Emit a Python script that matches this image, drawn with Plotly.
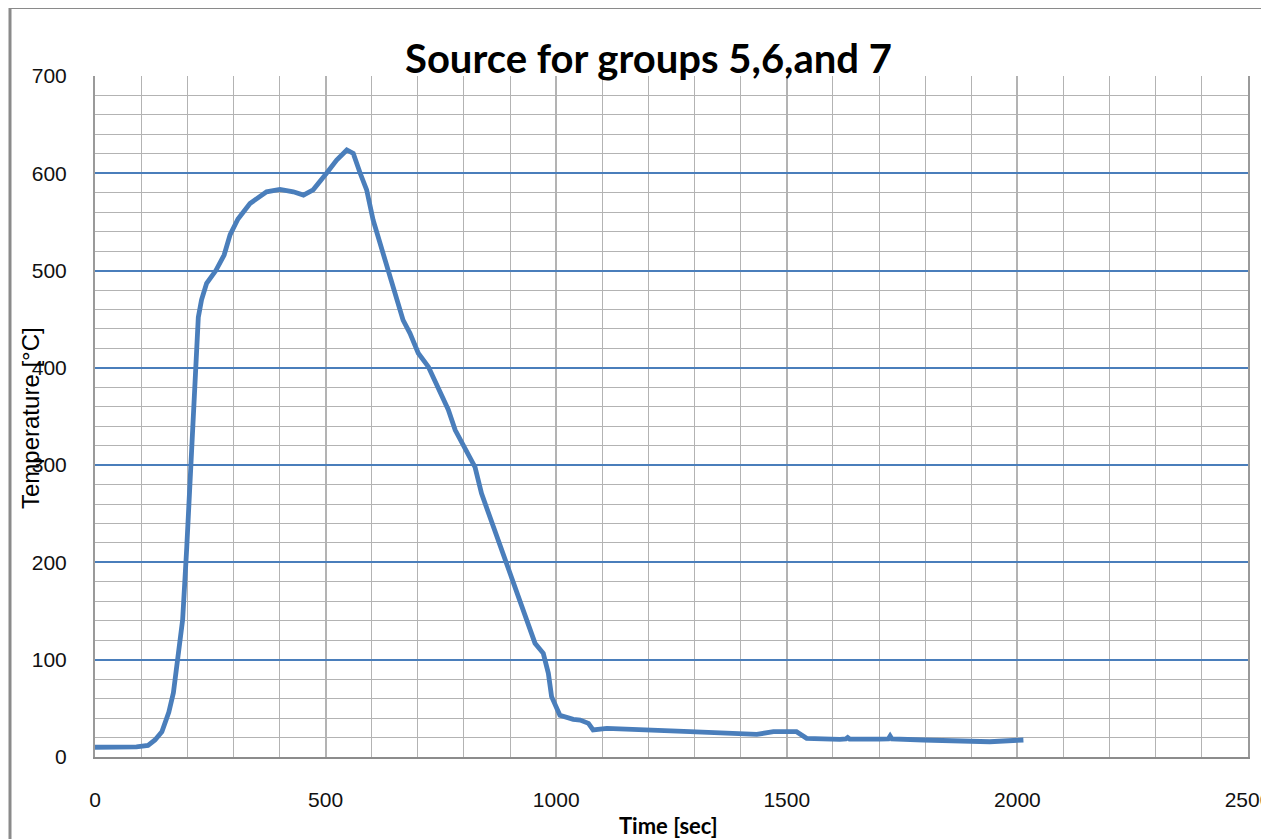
import plotly.graph_objects as go

# Data
time_sec = [0, 30, 60, 90, 115, 130, 145, 160, 170, 180, 190, 199, 206, 213, 220, 224,
            231, 242, 262, 280, 293, 310, 336, 372, 401, 430, 452, 473, 502, 524, 546,
            560, 575, 589, 603, 625, 640, 654, 668, 683, 701, 723, 748, 766, 781, 799,
            824, 838, 856, 874, 893, 914, 936, 954, 972, 983, 990, 1000, 1008, 1037,
            1052, 1070, 1080, 1110, 1182, 1290, 1435, 1471, 1521, 1543, 1615, 1628,
            1632, 1636, 1700, 1720, 1724, 1728, 1796, 1940, 2013]
temperature = [10, 10, 10, 10.5, 12, 17.5, 26, 46, 66, 100, 141, 216, 282, 360, 418, 452,
               470, 487, 500, 516, 537, 553, 569, 581, 583.5, 581, 577.6, 583, 600, 613.6, 624,
               620.5, 600, 583, 552, 518, 494, 473, 449, 435.5, 415, 401, 377, 357, 336, 319,
               298, 271, 247, 223, 195.6, 168, 141, 117, 106.6, 86, 62, 50, 43, 38.7,
               38, 34.6, 27.8, 29.5, 27.8, 26, 23.3, 26, 26, 19.2, 18.2, 18.5,
               20, 18.5, 18.3, 18.5, 21.6, 18.5, 17.5, 15.7, 17.5]

x_ticks = [0, 500, 1000, 1500, 2000, 2500]
y_ticks = [0, 100, 200, 300, 400, 500, 600, 700]

title_text = "Source for groups 5,6,and 7"
x_title = "Time [sec]"
y_title = "Temperature [°C]"

BLUE = "#4a7ebb"
GRID = "#b3b3b3"
PAGE_W, PAGE_H = 1269, 839
OFF = 8  # default body margin of the html page
W, H = PAGE_W - OFF, PAGE_H - OFF
# plot area in page pixels: x 95..1248, y 76..757
ML, MR, MT, MB = 95 - OFF, PAGE_W - 1248, 76 - OFF, PAGE_H - 757
PW, PH = 1248 - 95, 757 - 76


def px_x(p):
    return (p - 95) / PW


def px_y(p):
    return (757 - p) / PH


fig = go.Figure()
fig.add_trace(go.Scatter(x=time_sec, y=temperature, mode="lines",
                         line=dict(color=BLUE, width=4.8), showlegend=False))

tick_font = dict(family="Liberation Sans, Arial, sans-serif", size=21, color="#111111")

fig.update_layout(
    width=W, height=H,
    margin=dict(l=ML, r=MR, t=MT, b=MB, autoexpand=False),
    paper_bgcolor="white", plot_bgcolor="white",
    xaxis=dict(range=[0, 2500], tickvals=x_ticks, showgrid=True, gridcolor=GRID, gridwidth=1.5,
               minor=dict(dtick=100, showgrid=True, gridcolor=GRID, gridwidth=1.3),
               showline=True, linecolor="#8c8c8c", linewidth=1.5, mirror=False,
               zeroline=False, ticks="", tickfont=tick_font, ticklabelstandoff=23,
               ticklabeloverflow="allow", automargin=False),
    yaxis=dict(range=[0, 700], tickvals=y_ticks, showgrid=True, gridcolor=BLUE, gridwidth=1.5,
               minor=dict(dtick=20, showgrid=True, gridcolor=GRID, gridwidth=1.3),
               showline=True, linecolor="#9a9a9a", linewidth=2, mirror=True,
               zeroline=False, ticks="", tickfont=tick_font, ticklabelstandoff=22,
               automargin=False),
    annotations=[
        dict(text=f"<b>{title_text}</b>", xref="paper", yref="paper",
             x=px_x(648), y=px_y(58), showarrow=False, xanchor="center", yanchor="middle",
             font=dict(family="Lato, Calibri, sans-serif", size=40, color="black")),
        dict(text=f"<b>{x_title}</b>", xref="paper", yref="paper",
             x=px_x(668), y=px_y(826), showarrow=False, xanchor="center", yanchor="middle",
             font=dict(family="Lato, Calibri, sans-serif", size=22, color="black")),
        dict(text=y_title, xref="paper", yref="paper", textangle=-90,
             x=px_x(30), y=px_y(418), showarrow=False, xanchor="center", yanchor="middle",
             font=dict(family="Liberation Sans, Arial, sans-serif", size=24, color="black")),
    ],
    shapes=[
        dict(type="line", xref="paper", yref="paper", x0=px_x(10), x1=px_x(10),
             y0=px_y(8), y1=px_y(845), line=dict(color="#8a8a8a", width=3)),
        dict(type="line", xref="paper", yref="paper", x0=px_x(10), x1=px_x(1275),
             y0=px_y(8), y1=px_y(8), line=dict(color="#8a8a8a", width=2)),
    ],
)

fig.write_html("out.html", config={"displayModeBar": False})
